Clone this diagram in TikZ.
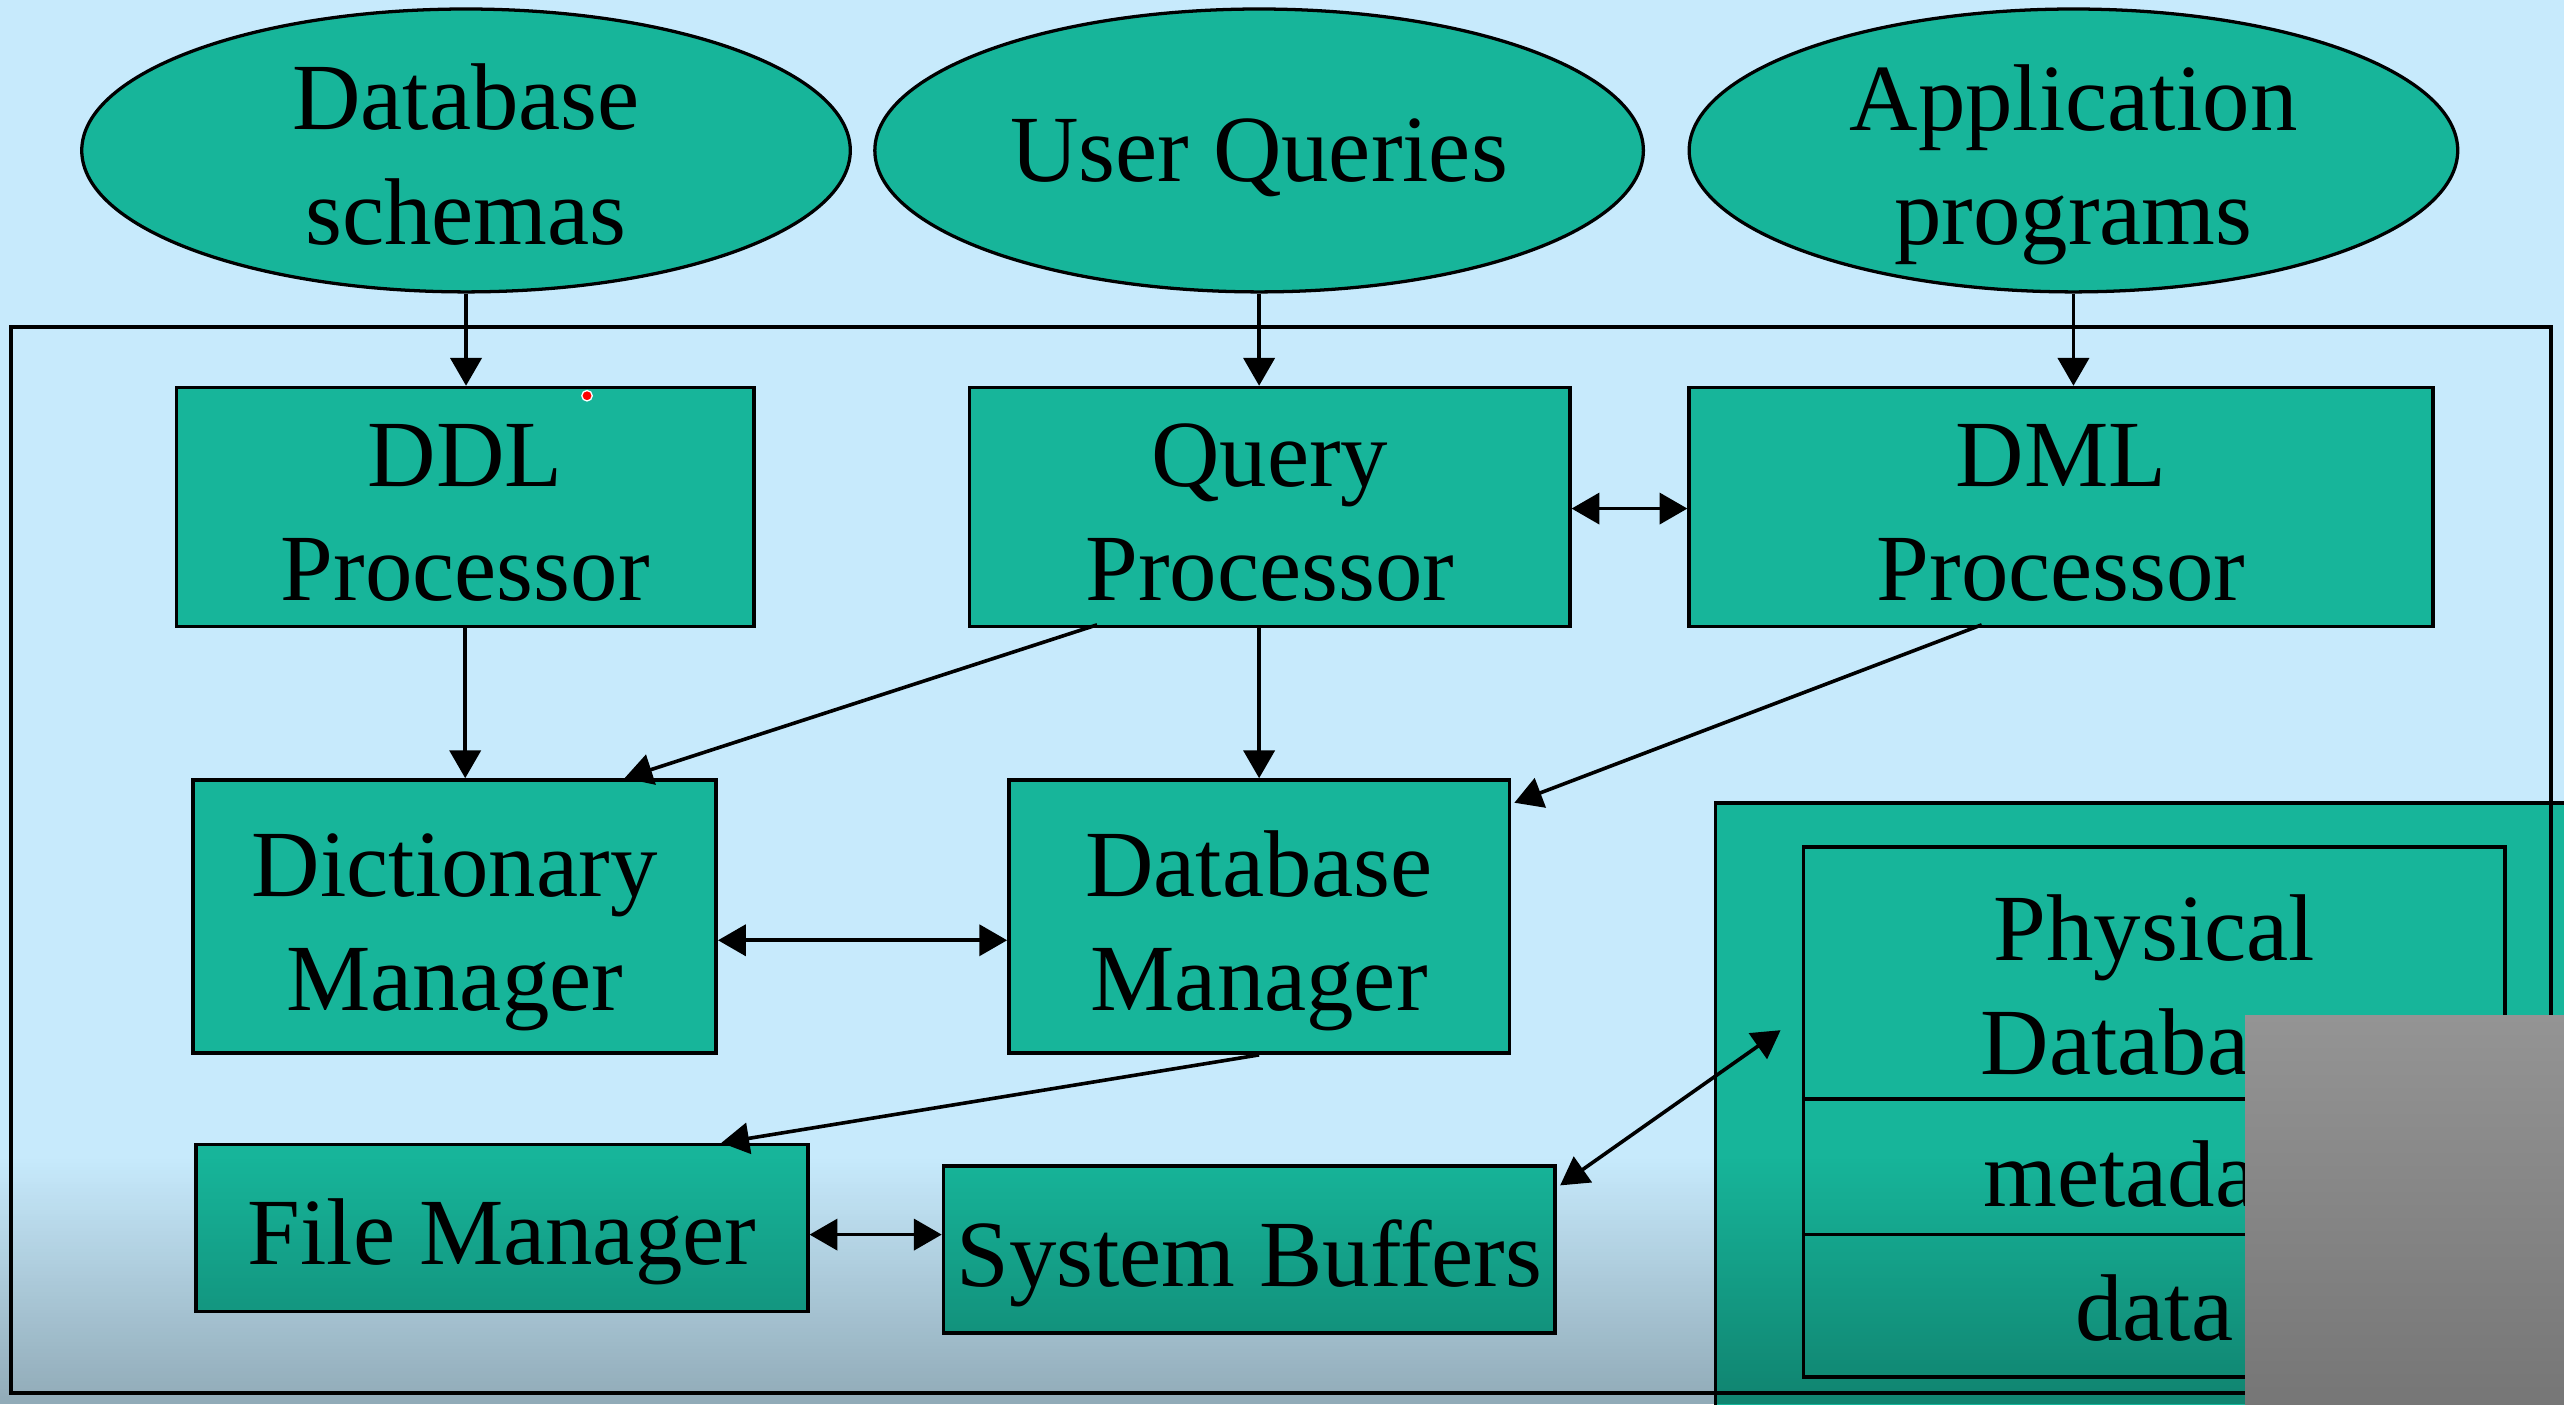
\documentclass[tikz,border=0pt]{standalone}
\usepackage{fontspec}
\setmainfont{Liberation Serif}
\usetikzlibrary{shapes.geometric,arrows.meta,calc,fadings}
\definecolor{bgblue}{RGB}{199,234,252}
\definecolor{tealfill}{RGB}{23,181,154}
\definecolor{grayA}{RGB}{148,148,148}
\definecolor{grayB}{RGB}{118,118,118}
\tikzfading[name=bottomfade, top color=transparent!100, bottom color=transparent!0]
\newcommand{\fl}{\rule{0pt}{22.5pt}}
\newcommand{\nd}[1]{\raisebox{0pt}[\height][0pt]{#1}}
\begin{document}
\begin{tikzpicture}[x=0.5pt,y=-0.5pt,
  txt/.style={font=\fontsize{29}{35}\selectfont},
  box/.style={draw=black, line width=1.1pt, fill=tealfill, rectangle, inner sep=0pt, align=center, txt},
  oval/.style={draw=black, line width=1pt, fill=tealfill, ellipse, inner sep=0pt, align=center, txt, minimum width=235pt, minimum height=86.5pt},
  lbl/.style={inner sep=0pt, align=center, txt},
  tip/.tip={Triangle[length=8.5pt,width=9.5pt]},
  arr/.style={line width=1.1pt, -tip},
  darr/.style={line width=1.1pt, tip-tip}]
\useasboundingbox (0,0) rectangle (1568,858.6);
\begin{scope}
\clip (0,0) rectangle (1568,858.6);
\fill[bgblue] (0,0) rectangle (1568,858.6);

% top ellipses
\node[oval] (schemas) at (285,92) {\fl Database\\schemas};
\node[oval] (queries) at (770,92) {User \nd{Queries}};
\node[oval] (apps) at (1268,92) {\fl Application\\\nd{programs}};

% processors
\node[box, minimum width=176.5pt, minimum height=73pt] (ddl) at (284.5,310) {\fl DDL\\Processor};
\node[box, minimum width=183.5pt, minimum height=73pt] (qp) at (776.5,310) {\fl Query\\Processor};
\node[box, minimum width=227.5pt, minimum height=73pt] (dml) at (1260.5,310) {\fl DML\\Processor};

% managers
\node[box, minimum width=160pt, minimum height=83.5pt] (dict) at (278,560.5) {\fl Dictionary\\\nd{Manager}};
\node[box, minimum width=153pt, minimum height=83.5pt] (dbm) at (770,560.5) {\fl Database\\\nd{Manager}};
\node[box, minimum width=187pt, minimum height=51pt] (fm) at (307,751) {\fl\nd{File Manager}};
\node[box, minimum width=187pt, minimum height=51pt] (sb) at (764,764) {\fl\nd{System Buffers}};

% physical database region
\draw[line width=1.1pt, fill=tealfill] (1049,491) rectangle (1600,900);
\node[box, minimum width=214.5pt, minimum height=162pt] (phys) at (1317.5,680) {};
\draw[line width=1.1pt] (phys.west |- 0,672) -- (phys.east |- 0,672);
\draw[line width=1.1pt] (phys.west |- 0,755) -- (phys.east |- 0,755);
\node[lbl] (physlbl) at (1317.5,600) {\fl Physical\\Database};
\node[lbl, anchor=base] (metalbl) at (1317.5,738) {metadata};
\node[lbl, anchor=base] (datalbl) at (1317.5,820) {data};

% connectors
\draw[arr] (schemas.south) -- (schemas.south |- ddl.north);
\draw[arr] (queries.south) -- (queries.south |- qp.north);
\draw[arr] (apps.south) -- (apps.south |- dml.north);
\draw[darr] ($(qp.east)+(0,1)$) -- ($(dml.west)+(0,1)$);
\draw[arr] (ddl.south) -- (ddl.south |- dict.north);
\draw[arr] ($(qp.south west)+(79,-2)$) -- ($(dict.north west)+(265,0)$);
\draw[arr] (dbm.north |- qp.south) -- (dbm.north);
\draw[arr] ($(dml.south west)+(180,-2)$) -- ($(dbm.north east)+(2,15)$);
\draw[darr] ($(dict.east)+(0,14.5)$) -- ($(dbm.west)+(0,14.5)$);
\draw[arr] (dbm.south) -- ($(fm.north east)+(-54,0)$);
\draw[darr] ($(fm.east)+(0,4)$) -- ($(fm.east -| sb.west)+(0,4)$);
\draw[darr] ($(sb.north east)+(2,13)$) -- ($(phys.west)+(-13,-50)$);

% pointer dot
\filldraw[draw=white, fill=red, line width=0.4pt] (359,242) circle (1.6pt);

% outer frame
\draw[line width=1.2pt] (7,200) rectangle (1560,852);

% bottom darkening
\fill[black, opacity=0.27, path fading=bottomfade] (0,708) rectangle (1568,858.6);

% grey overlay
\shade[top color=grayA, bottom color=grayB] (1373,621) rectangle (1570,860);
\end{scope}
\end{tikzpicture}
\end{document}
